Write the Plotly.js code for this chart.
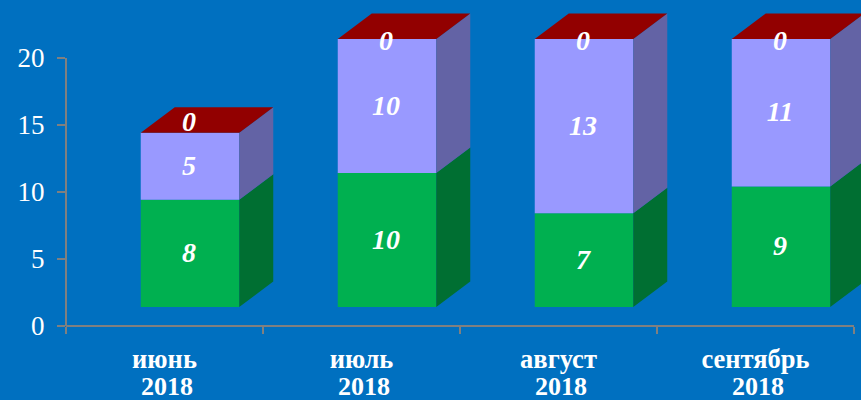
<!DOCTYPE html>
<html><head><meta charset="utf-8">
<script src="https://cdn.plot.ly/plotly-3.0.1.min.js"></script>
<style>html,body{margin:0;padding:0;background:#0070C0;overflow:hidden}</style>
</head><body><div id="chart" style="width:861px;height:400px"></div>
<script>
const months = ['июнь','июль','август','сентябрь'];
const years = ['2018','2018','2018','2018'];
const greenValues = [8,10,7,9];
const violetValues = [5,10,13,11];
const redValues = [0,0,0,0];
const zeroLabelLift = [0.8,-0.15,-0.15,-0.15];

const pxPerY = 13.4, pxPerX = 197;
const depthX = 34/pxPerX, depthY = 25.5/pxPerY;
const barW = 98.5/pxPerX, barShift = 25.5/pxPerX, floorY = 19/pxPerY, labelDrop = 1.5/pxPerY;
const F = "'Liberation Serif','Times New Roman',serif";
const cats = months.map((_,i)=>i);
const xc = cats.map(i=>i+barShift);
const base1 = greenValues.map(()=>floorY);
const base2 = greenValues.map((v,i)=>floorY+v);
const base3 = greenValues.map((v,i)=>floorY+v+violetValues[i]);

function bar(vals,base,color){
  return {type:'bar',x:xc,y:vals,base:base,width:barW,marker:{color:color,line:{width:0}},hoverinfo:'skip',showlegend:false};
}
function poly(xs,ys,color){
  return {type:'scatter',mode:'lines',x:xs,y:ys,fill:'toself',fillcolor:color,line:{width:0,color:color},hoverinfo:'skip',showlegend:false};
}
function sideFace(vals,base,color){
  const xs=[],ys=[];
  xc.forEach((c,i)=>{
    const r=c+barW/2, b=base[i], t=b+vals[i];
    xs.push(r,r+depthX,r+depthX,r,r,null);
    ys.push(b,b+depthY,t+depthY,t,b,null);
  });
  return poly(xs,ys,color);
}
function topFace(base,color){
  const xs=[],ys=[];
  xc.forEach((c,i)=>{
    const l=c-barW/2,r=c+barW/2,t=base[i];
    xs.push(l,r,r+depthX,l+depthX,l,null);
    ys.push(t,t,t+depthY,t+depthY,t,null);
  });
  return poly(xs,ys,color);
}
function labels(vals,base,lift){
  return {type:'scatter',mode:'text',x:xc.map(c=>c-1/pxPerX),y:vals.map((v,i)=>base[i]+v/2-labelDrop+(lift?lift[i]:0)),
    text:vals.map(String),textposition:'middle center',cliponaxis:false,
    textfont:{family:F,size:28,color:'#FFFFFF',weight:'bold',style:'italic'},hoverinfo:'skip',showlegend:false};
}
const data=[
  bar(greenValues,base1,'#00B050'),
  bar(violetValues,base2,'#9999FF'),
  bar(redValues,base3,'#920000'),
  sideFace(greenValues,base1,'#006F32'),
  sideFace(violetValues,base2,'#6363A5'),
  topFace(base3,'#920000'),
  labels(greenValues,base1),
  labels(violetValues,base2),
  labels(redValues,base3,zeroLabelLift)
];
const axisColor='#808080';
const layout={
  width:861,height:400,margin:{l:66,r:0,t:0,b:74,pad:0},
  paper_bgcolor:'#0070C0',plot_bgcolor:'#0070C0',barmode:'overlay',showlegend:false,
  xaxis:{range:[-0.5,3.5355],tickmode:'array',tickvals:cats,ticktext:months,ticks:'',showgrid:false,zeroline:false,showline:false,
    tickfont:{family:F,size:26.5,color:'#FFFFFF',weight:'bold'},ticklabelstandoff:14,
    minor:{tickmode:'array',tickvals:[-0.5,0.5,1.5,2.5,3.5],ticks:'outside',ticklen:7,tickwidth:2,tickcolor:axisColor,showgrid:false}},
  yaxis:{range:[0,24.328],tickmode:'array',tickvals:[0,5,10,15,20],ticks:'outside',ticklen:8,tickwidth:2,tickcolor:axisColor,showgrid:false,zeroline:false,showline:false,
    tickfont:{family:F,size:27,color:'#FFFFFF'},ticklabelstandoff:7},
  shapes:[
    {type:'line',xref:'paper',yref:'y',x0:0,x1:0,y0:0,y1:20,line:{color:axisColor,width:2}},
    {type:'line',xref:'x',yref:'paper',x0:-0.5,x1:3.5,y0:0,y1:0,line:{color:axisColor,width:2}}
  ],
  annotations:years.map((t,i)=>({xref:'x',yref:'paper',x:i+0.015,y:0,yshift:-60,yanchor:'middle',xanchor:'center',showarrow:false,text:t,
    font:{family:F,size:26,color:'#FFFFFF',weight:'bold'}}))
};
Plotly.newPlot('chart',data,layout,{displayModeBar:false,staticPlot:true});
</script></body></html>
